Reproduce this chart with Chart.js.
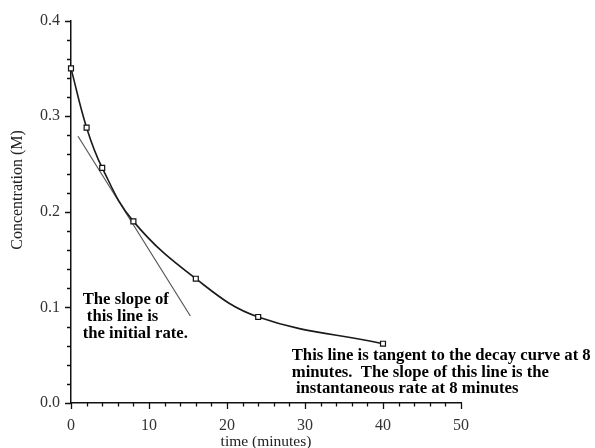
<!DOCTYPE html>
<html>
<head>
<meta charset="utf-8">
<script src="https://cdn.jsdelivr.net/npm/chart.js@4/dist/chart.umd.min.js"></script>
<style>
  html, body { margin: 0; padding: 0; background: #fff; }
  #wrap { width: 595px; height: 448px; }
</style>
</head>
<body>
<div id="wrap"><canvas id="chart"></canvas></div>
<script>
// measured concentrations
var times = [0, 2, 4, 8, 16, 24, 40];
var conc = [0.350, 0.288, 0.246, 0.190, 0.130, 0.090, 0.062];
// the straight line drawn against the curve (two end points)
var lineTimes = [0.9, 15.3];
var lineConc = [0.279, 0.091];
// labelled ticks
var xLabels = [0, 10, 20, 30, 40, 50];
var yLabels = [0.0, 0.1, 0.2, 0.3, 0.4];

var noteLeft = ['The slope of', ' this line is', 'the initial rate.'];
var noteRight = ['This line is tangent to the decay curve at 8',
                 'minutes.  The slope of this line is the',
                 ' instantaneous rate at 8 minutes'];

var serif = '"Liberation Serif", "DejaVu Serif", serif';

function pts(xs, ys) {
  return xs.map(function(x, i) { return {x: x, y: ys[i]}; });
}

// tick marks: long at labelled values, short otherwise
var tickMarks = {
  id: 'tickMarks',
  afterDraw: function(chart) {
    var ctx = chart.ctx, xs = chart.scales.x, ys = chart.scales.y;
    ctx.save();
    ctx.strokeStyle = '#111';
    ctx.lineWidth = 1.3;
    ctx.beginPath();
    xs.ticks.forEach(function(t) {
      var px = Math.round(xs.getPixelForValue(t.value)) + 0.5;
      var len = xLabels.indexOf(Math.round(t.value * 100) / 100) >= 0 ? 6 : 3.5;
      ctx.moveTo(px, xs.top);
      ctx.lineTo(px, xs.top + len);
    });
    ys.ticks.forEach(function(t) {
      var py = Math.round(ys.getPixelForValue(t.value)) + 0.5;
      var len = yLabels.indexOf(Math.round(t.value * 100) / 100) >= 0 ? 6 : 4;
      ctx.moveTo(ys.right, py);
      ctx.lineTo(ys.right - len, py);
    });
    ctx.stroke();
    ctx.restore();
  }
};

// text notes and the y-axis title
var notes = {
  id: 'notes',
  afterDraw: function(chart) {
    var ctx = chart.ctx, xs = chart.scales.x, ys = chart.scales.y;
    ctx.save();
    ctx.fillStyle = '#000';
    ctx.textBaseline = 'middle';
    ctx.textAlign = 'left';
    ctx.font = 'bold 16.7px ' + serif;
    noteLeft.forEach(function(s, i) {
      ctx.fillText(s, xs.getPixelForValue(1.5), ys.getPixelForValue(0.108) + i * 17);
    });
    noteRight.forEach(function(s, i) {
      ctx.fillText(s, xs.getPixelForValue(28.3), ys.getPixelForValue(0.0495) + i * 16.7);
    });
    ctx.translate(18, 190);
    ctx.rotate(-Math.PI / 2);
    ctx.textAlign = 'center';
    ctx.fillStyle = '#222';
    ctx.font = '16px ' + serif;
    ctx.fillText('Concentration (M)', 0, 0);
    ctx.restore();
  }
};

new Chart(document.getElementById('chart'), {
  type: 'scatter',
  data: {
    datasets: [
      {
        data: pts(times, conc),
        showLine: true,
        tension: 0.4,
        clip: false,
        borderColor: '#1a1a1a',
        borderWidth: 1.6,
        pointStyle: 'rect',
        pointRadius: 3.5,
        pointBorderWidth: 1.2,
        pointBackgroundColor: '#fff',
        pointBorderColor: '#111',
        order: 1
      },
      {
        data: pts(lineTimes, lineConc),
        showLine: true,
        borderColor: '#555',
        borderWidth: 1.2,
        pointRadius: 0,
        order: 2
      }
    ]
  },
  options: {
    responsive: true,
    maintainAspectRatio: false,
    animation: false,
    layout: { padding: { top: 15, right: 134, left: 0, bottom: 0 } },
    plugins: { legend: { display: false }, tooltip: { enabled: false } },
    scales: {
      x: {
        type: 'linear',
        min: 0, max: 50,
        afterFit: function(s) { s.height = 45; },
        grid: { drawOnChartArea: false, drawTicks: false, color: 'rgba(0,0,0,0)' },
        border: { display: true, color: '#111', width: 1.5 },
        ticks: {
          stepSize: 2,
          autoSkip: false,
          maxRotation: 0,
          padding: 13,
          color: '#333',
          font: { family: serif, size: 16 },
          callback: function(v) {
            return xLabels.indexOf(Math.round(v * 100) / 100) >= 0 ? String(v) : '';
          }
        },
        title: {
          display: true,
          text: 'time (minutes)',
          color: '#222',
          font: { family: serif, size: 15.5 },
          padding: { top: 0, bottom: -3 }
        }
      },
      y: {
        type: 'linear',
        min: 0, max: 0.4,
        afterFit: function(s) { s.width = 71; },
        grid: { drawOnChartArea: false, drawTicks: false, color: 'rgba(0,0,0,0)' },
        border: { display: true, color: '#111', width: 1.5 },
        ticks: {
          stepSize: 0.02,
          autoSkip: false,
          padding: 11,
          color: '#333',
          font: { family: serif, size: 16 },
          callback: function(v) {
            var r = Math.round(v * 100) / 100;
            return yLabels.indexOf(r) >= 0 ? r.toFixed(1) : '';
          }
        }
      }
    }
  },
  plugins: [tickMarks, notes]
});
</script>
</body>
</html>
